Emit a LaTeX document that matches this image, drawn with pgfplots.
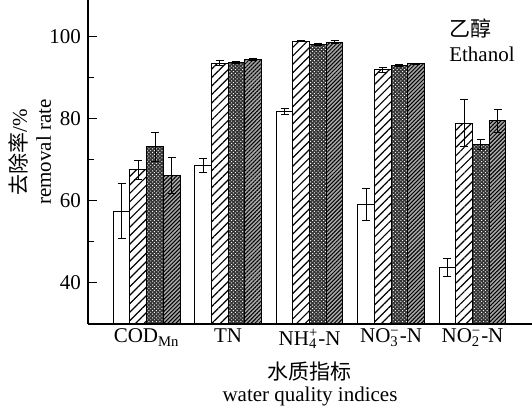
\documentclass[border=0pt]{standalone}
\usepackage{fontspec}
\setmainfont{Liberation Serif}
\newfontfamily\cjk{Noto Sans CJK SC}
\usepackage{pgfplots}
\pgfplotsset{compat=1.18}
\usetikzlibrary{patterns.meta}
\newcommand\supsub[2]{{\ooalign{\textsuperscript{#1}\hfil\cr\textsubscript{#2}\hfil\cr}}}
\pgfplotstableread{
x y e
0 57.4 6.8
1 68.6 1.7
2 81.8 0.8
3 59.0 3.9
4 43.5 2.2
}\sA
\pgfplotstableread{
x y e
0 67.5 2.3
1 93.5 0.6
2 98.9 0.1
3 92.0 0.6
4 78.9 5.7
}\sB
\pgfplotstableread{
x y e
0 73.1 3.5
1 93.8 0.2
2 98.1 0.2
3 93.0 0.2
4 73.6 1.2
}\sC
\pgfplotstableread{
x y e
0 66.1 4.3
1 94.5 0.3
2 98.7 0.4
3 93.4 0.2
4 79.5 2.8
}\sD
\pgfplotsset{myerr/.style={error bars/.cd, y dir=both, y explicit,
  error bar style={line width=0.5pt, black},
  error mark options={rotate=90, mark size=2pt, line width=0.5pt, black}}}
\begin{document}
\begin{tikzpicture}
\path[use as bounding box] (-44pt,-42pt) rectangle (222pt,162pt);
\begin{axis}[
  at={(0,0)}, anchor=south west,
  scale only axis, width=222pt, height=162pt,
  xmin=-0.72, xmax=4.73, ymin=29.8, ymax=109,
  axis x line*=bottom, axis y line*=left,
  axis line style={-, line width=0.6pt},
  ybar=0pt, bar width=8.35pt,
  xtick={0,1,2,3,4},
  xticklabels={COD\textsubscript{Mn}, TN, NH\supsub{+}{4}-N, NO\supsub{\textminus}{3}-N, NO\supsub{\textminus}{2}-N},
  major x tick style={draw=none},
  ytick={40,60,80,100}, minor ytick={50,70,90},
  tick align=inside,
  major tick length=4.5pt, minor tick length=3pt,
  tick style={line width=0.6pt, black},
  /pgf/number format/assume math mode=true,
  tick label style={font=\fontsize{10.5}{12}\selectfont},
  xticklabel style={yshift=1pt},
  ylabel={\begin{tabular}{c}{\cjk 去除率}/\%\\removal rate\end{tabular}},
  xlabel={\begin{tabular}{c}{\cjk 水质指标}\\[-1pt]water quality indices\end{tabular}},
  label style={font=\fontsize{10.5}{12}\selectfont},
  ylabel style={at={(axis description cs:0,0.5)}, anchor=center, rotate=0, xshift=5pt, yshift=27.25pt},
  xlabel style={at={(axis description cs:0.5,0)}, anchor=center, yshift=-30.5pt},
]
\addplot[draw=black, line width=0.5pt, fill=white, myerr]
  table[x=x, y=y, y error=e] {\sA};
\addplot[draw=black, line width=0.5pt, fill=white,
  postaction={pattern={Lines[angle=45,distance=3pt,line width=0.6pt]}, pattern color=black}, myerr]
  table[x=x, y=y, y error=e] {\sB};
\addplot[draw=black, line width=0.5pt, fill=black!80,
  postaction={pattern={Dots[angle=45,distance=1.3pt,radius=0.35pt]}, pattern color=white}, myerr]
  table[x=x, y=y, y error=e] {\sC};
\addplot[draw=black, line width=0.5pt, fill=black!35,
  postaction={pattern={Lines[angle=45,distance=1.4pt,line width=0.5pt]}, pattern color=black}, myerr]
  table[x=x, y=y, y error=e] {\sD};
\node[anchor=north west, align=left, font=\fontsize{10.5}{12.5}\selectfont, inner sep=0pt]
  at (axis cs:3.71,104.5) {{\cjk 乙醇}\\Ethanol};
\end{axis}
\end{tikzpicture}
\end{document}
